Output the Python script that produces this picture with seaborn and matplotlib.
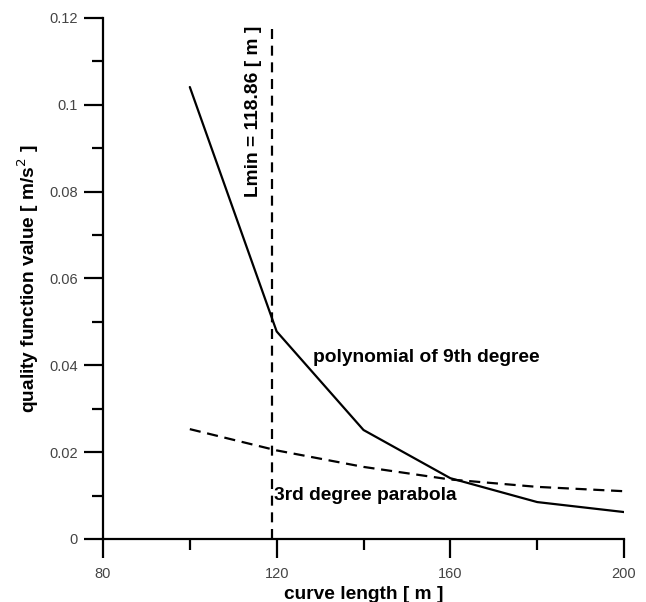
import matplotlib
matplotlib.use("Agg")
import matplotlib.pyplot as plt
import seaborn as sns
import pandas as pd
from matplotlib.ticker import MultipleLocator

length = [100, 120, 140, 160, 180, 200]
poly9 = [0.1041, 0.0478, 0.0251, 0.0140, 0.0085, 0.0062]
parab3 = [0.0253, 0.0204, 0.0166, 0.0137, 0.0120, 0.0110]
lmin = 118.86
lmin_top = 0.1182

df = pd.DataFrame({"length": length + length,
                   "value": poly9 + parab3,
                   "curve": ["poly"] * len(length) + ["parab"] * len(length)})

sns.set_style("ticks")
plt.rcParams['font.family'] = ['Liberation Sans', 'DejaVu Sans']
plt.rcParams['text.color'] = 'black'
plt.rcParams['axes.labelcolor'] = 'black'

fig = plt.figure(figsize=(6.46, 6.02), dpi=100)
ax = fig.add_axes([0.1594, 0.1047, 0.8066, 0.8654])

sns.lineplot(data=df[df.curve == "poly"], x="length", y="value", ax=ax,
             color="black", lw=1.6)
sns.lineplot(data=df[df.curve == "parab"], x="length", y="value", ax=ax,
             color="black", lw=1.6, linestyle=(0, (5, 3)))
ax.plot([lmin, lmin], [0, lmin_top], color="black", lw=1.6, linestyle=(0, (4.5, 3)))

ax.set_xlim(80, 200)
ax.set_ylim(0, 0.12)
ax.xaxis.set_minor_locator(MultipleLocator(20))
ax.yaxis.set_minor_locator(MultipleLocator(0.01))
ax.set_xticks([80, 120, 160, 200])
ax.set_xticklabels(["80", "120", "160", "200"])
ax.set_yticks([0, 0.02, 0.04, 0.06, 0.08, 0.1, 0.12])
ax.set_yticklabels(["0", "0.02", "0.04", "0.06", "0.08", "0.1", "0.12"])

ax.tick_params(which="major", length=14, width=1.6, direction="out",
               labelsize=10.5, labelcolor="#444444", color="black", pad=4)
ax.tick_params(which="minor", length=8, width=1.6, direction="out", color="black")
ax.tick_params(axis="x", which="major", pad=6)
for s in ["top", "right"]:
    ax.spines[s].set_visible(False)
for s in ["left", "bottom"]:
    ax.spines[s].set_linewidth(1.6)
    ax.spines[s].set_color("black")

ax.set_xlabel("curve length [ m ]", fontsize=13.8, fontweight="bold", labelpad=4)
ax.set_ylabel("quality function value [ m/s$^2$ ]", fontsize=13.8, fontweight="bold",
              labelpad=6)

ax.text(114.6, 0.0788, "Lmin = 118.86 [ m ]", rotation=90, fontsize=13.8,
        fontweight="bold", ha="center", va="bottom")
ax.text(128.3, 0.0419, "polynomial of 9th degree", fontsize=13.8,
        fontweight="bold", ha="left", va="center")
ax.text(119.3, 0.0101, "3rd degree parabola", fontsize=13.8,
        fontweight="bold", ha="left", va="center")

fig.savefig("out.png", dpi=100)
